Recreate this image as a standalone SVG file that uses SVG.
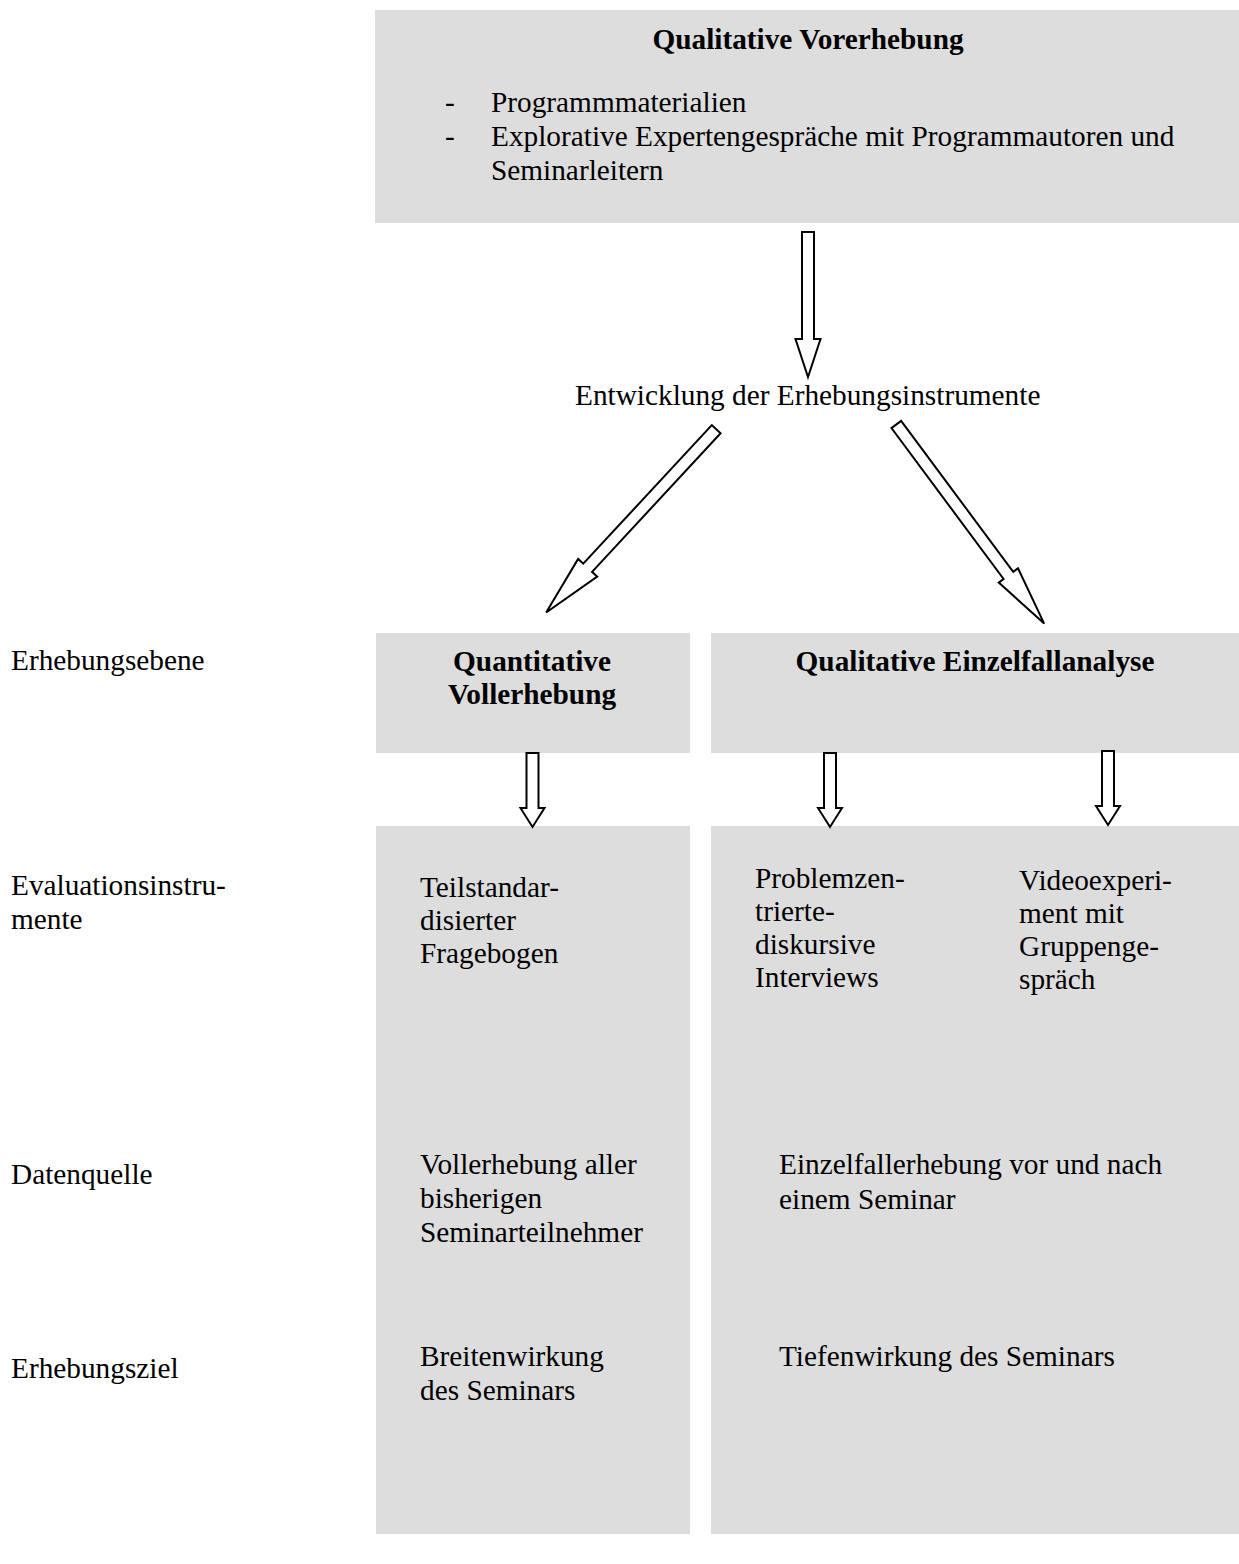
<svg xmlns="http://www.w3.org/2000/svg" width="1239" height="1564" viewBox="0 0 1239 1564">
<style>
.box{fill:#dddddd;stroke:none}
.t{font-family:"Liberation Serif","Times New Roman",serif;font-size:29.3px;fill:#000}
.b{font-weight:bold}
.m{text-anchor:middle}
.arr{fill:#ffffff;stroke:#000;stroke-width:2;stroke-linejoin:miter}
</style>
<rect width="1239" height="1564" fill="#ffffff"/>
<g id="labels">
<text class="t" x="11" y="670">Erhebungsebene</text>
<text class="t" x="11" y="895">Evaluationsinstru-</text>
<text class="t" x="11" y="929">mente</text>
<text class="t" x="11" y="1184">Datenquelle</text>
<text class="t" x="11" y="1378">Erhebungsziel</text>
</g>
<g id="vorerhebung">
<rect class="box" x="375" y="10" width="864" height="213"/>
<text class="t b m" x="808" y="49">Qualitative Vorerhebung</text>
<text class="t" x="445" y="112">-</text>
<text class="t" x="491" y="112">Programmmaterialien</text>
<text class="t" x="445" y="146">-</text>
<text class="t" x="491" y="146">Explorative Expertengespräche mit Programmautoren und</text>
<text class="t" x="491" y="180">Seminarleitern</text>
</g>
<g id="entwicklung">
<text class="t" x="575" y="405">Entwicklung der Erhebungsinstrumente</text>
</g>
<g id="quantitative">
<rect class="box" x="376" y="633" width="314" height="120"/>
<text class="t b m" x="532" y="671">Quantitative</text>
<text class="t b m" x="532" y="704">Vollerhebung</text>
</g>
<g id="qualitative">
<rect class="box" x="711" y="633" width="528" height="120"/>
<text class="t b m" x="975" y="671">Qualitative Einzelfallanalyse</text>
</g>
<g id="quant-detail">
<rect class="box" x="376" y="826" width="314" height="708"/>
<text class="t" x="420" y="897">Teilstandar-</text>
<text class="t" x="420" y="930">disierter</text>
<text class="t" x="420" y="963">Fragebogen</text>
<text class="t" x="420" y="1174">Vollerhebung aller</text>
<text class="t" x="420" y="1208">bisherigen</text>
<text class="t" x="420" y="1242">Seminarteilnehmer</text>
<text class="t" x="420" y="1366">Breitenwirkung</text>
<text class="t" x="420" y="1400">des Seminars</text>
</g>
<g id="qual-detail">
<rect class="box" x="711" y="826" width="528" height="708"/>
<text class="t" x="755" y="888">Problemzen-</text>
<text class="t" x="755" y="921">trierte-</text>
<text class="t" x="755" y="954">diskursive</text>
<text class="t" x="755" y="987">Interviews</text>
<text class="t" x="1019" y="890">Videoexperi-</text>
<text class="t" x="1019" y="923">ment mit</text>
<text class="t" x="1019" y="956">Gruppenge-</text>
<text class="t" x="1019" y="989">spräch</text>
<text class="t" x="779" y="1174">Einzelfallerhebung vor und nach</text>
<text class="t" x="779" y="1209">einem Seminar</text>
<text class="t" x="779" y="1366">Tiefenwirkung des Seminars</text>
</g>
<g id="connectors">
<polygon class="arr" transform="translate(808,232) rotate(90)" points="0,-6 107,-6 107,-12.5 145,0 107,12.5 107,6 0,6"/>
<polygon class="arr" transform="translate(716.2,429.2) rotate(132.85)" points="0,-6 189,-6 189,-13 250,0 189,13 189,6 0,6"/>
<polygon class="arr" transform="translate(896.3,424.5) rotate(53.4)" points="0,-6 188,-6 188,-12 248,0 188,12 188,6 0,6"/>
<polygon class="arr" transform="translate(532.5,753) rotate(90)" points="0,-6 55,-6 55,-12 74,0 55,12 55,6 0,6"/>
<polygon class="arr" transform="translate(830,753) rotate(90)" points="0,-6 55,-6 55,-12 74,0 55,12 55,6 0,6"/>
<polygon class="arr" transform="translate(1108,751) rotate(90)" points="0,-6 55,-6 55,-12 74,0 55,12 55,6 0,6"/>
</g>
</svg>
